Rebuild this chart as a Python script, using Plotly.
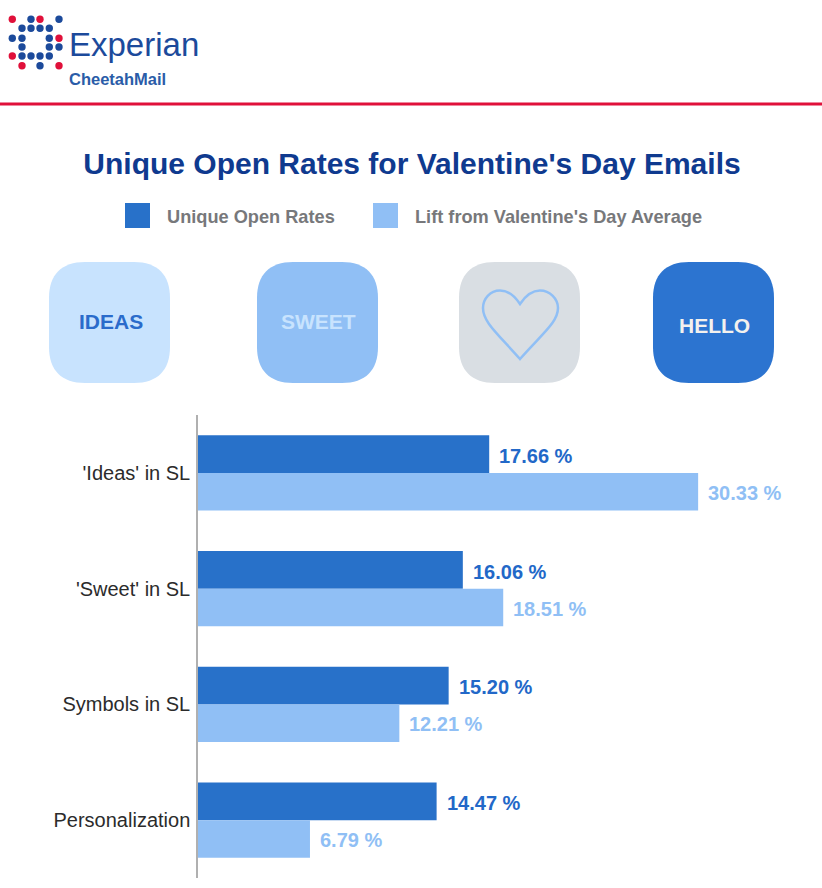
import plotly.graph_objects as go

W = 822
H = 888

categories = ["'Ideas' in SL", "'Sweet' in SL", "Symbols in SL", "Personalization"]
open_rates = [17.66, 16.06, 15.20, 14.47]
lift = [30.33, 18.51, 12.21, 6.79]
series_names = ["Unique Open Rates", "Lift from Valentine's Day Average"]
title_text = "Unique Open Rates for Valentine's Day Emails"

DARK = "#2871c9"
LIGHT = "#90bff5"
NAVY = "#0f3a8f"
RED = "#e0103a"
LOGO_BLUE = "#1c4a9b"


def px(x):
    return x / W


def py(y):
    return 1 - y / H


def path_str(*parts):
    # parts are command letters and (x, y) pairs in page pixels
    out = []
    for p in parts:
        if isinstance(p, str):
            out.append(p)
        else:
            out.append(f"{px(p[0]):.5f},{py(p[1]):.5f}")
    return " ".join(out)


def tile_path(x0, y0, size, r):
    x1, y1 = x0 + size, y0 + size
    k = r * 0.35
    return path_str(
        "M", (x0 + r, y0), "L", (x1 - r, y0),
        "C", (x1 - k, y0), (x1, y0 + k), (x1, y0 + r),
        "L", (x1, y1 - r),
        "C", (x1, y1 - k), (x1 - k, y1), (x1 - r, y1),
        "L", (x0 + r, y1),
        "C", (x0 + k, y1), (x0, y1 - k), (x0, y1 - r),
        "L", (x0, y0 + r),
        "C", (x0, y0 + k), (x0 + k, y0), (x0 + r, y0), "Z",
    )


fig = go.Figure()
fig.add_trace(go.Bar(y=categories, x=open_rates, name=series_names[0], orientation="h",
                     marker=dict(color=DARK, line=dict(width=0))))
fig.add_trace(go.Bar(y=categories, x=lift, name=series_names[1], orientation="h",
                     marker=dict(color=LIGHT, line=dict(width=0))))

shapes = []
annotations = []


def page_text(text, x, y, size, color, bold=False, anchor="center"):
    annotations.append(dict(
        text=f"<b>{text}</b>" if bold else text,
        x=px(x), y=py(y), xref="paper", yref="paper",
        xanchor=anchor, yanchor="middle", showarrow=False,
        font=dict(family="Liberation Sans", size=size, color=color),
    ))


# value labels beside the bars
for cat, a, b in zip(categories, open_rates, lift):
    annotations.append(dict(text=f"<b>{a:.2f} %</b>", x=a, y=cat, xanchor="left", yanchor="middle",
                            xshift=8, yshift=17, showarrow=False,
                            font=dict(family="Liberation Sans", size=20, color="#2268c8")))
    annotations.append(dict(text=f"<b>{b:.2f} %</b>", x=b, y=cat, xanchor="left", yanchor="middle",
                            xshift=8, yshift=-20, showarrow=False,
                            font=dict(family="Liberation Sans", size=20, color=LIGHT)))

# logo
logo_cols = [12.3, 22, 31, 40, 49.3, 59]
logo_rows = [19.3, 28.3, 38.3, 47, 56, 65.7]
logo_dots = [
    (0, 0, RED), (2, 0, LOGO_BLUE), (3, 0, RED), (5, 0, LOGO_BLUE),
    (1, 1, LOGO_BLUE), (2, 1, LOGO_BLUE), (3, 1, LOGO_BLUE), (4, 1, LOGO_BLUE),
    (0, 2, LOGO_BLUE), (1, 2, LOGO_BLUE), (4, 2, LOGO_BLUE), (5, 2, RED),
    (1, 3, LOGO_BLUE), (4, 3, LOGO_BLUE), (5, 3, LOGO_BLUE),
    (0, 4, RED), (1, 4, LOGO_BLUE), (2, 4, LOGO_BLUE), (3, 4, LOGO_BLUE), (4, 4, LOGO_BLUE),
    (1, 5, RED), (3, 5, LOGO_BLUE), (5, 5, RED),
]
for c, r, color in logo_dots:
    cx, cy = logo_cols[c], logo_rows[r]
    shapes.append(dict(type="circle", xref="paper", yref="paper",
                       x0=px(cx - 3.7), x1=px(cx + 3.7), y0=py(cy + 3.7), y1=py(cy - 3.7),
                       fillcolor=color, line=dict(width=0)))
page_text("Experian", 67, 44, 33, LOGO_BLUE, anchor="left")
page_text("CheetahMail", 67, 79, 16.5, "#2a5ca8", bold=True, anchor="left")

# red rule under the logo
shapes.append(dict(type="line", xref="paper", yref="paper", x0=0, x1=1, y0=py(104), y1=py(104),
                   line=dict(color=RED, width=3)))

# legend row
for x0, color, label, tx in [(125, DARK, series_names[0], 165), (373, LIGHT, series_names[1], 413)]:
    shapes.append(dict(type="rect", xref="paper", yref="paper",
                       x0=px(x0), x1=px(x0 + 25), y0=py(228), y1=py(203),
                       fillcolor=color, line=dict(width=0)))
    page_text(label, tx, 217, 18.2, "#77787b", bold=True, anchor="left")

# icon tiles
for x0, fill, word, wcolor, wy in [
    (49, "#c8e3fe", "IDEAS", "#2a6bcb", 321),
    (257, LIGHT, "SWEET", "#c8e3fe", 321),
    (459, "#d9dee3", None, None, None),
    (653, "#2c74d0", "HELLO", "#f3f1ee", 325),
]:
    shapes.append(dict(type="path", xref="paper", yref="paper", path=tile_path(x0, 262, 121, 36),
                       fillcolor=fill, line=dict(width=0)))
    if word:
        page_text(word, x0 + 61.5, wy, 21, wcolor, bold=True)

heart = path_str(
    "M", (520, 304),
    "C", (514, 295), (507, 290.5), (500, 290.5),
    "C", (490, 290.5), (483, 299), (483, 308),
    "C", (483, 322), (497, 333), (520, 359),
    "C", (543, 333), (558, 322), (558, 308),
    "C", (558, 299), (550, 290.5), (540, 290.5),
    "C", (533, 290.5), (526, 295), (520, 304), "Z",
)
shapes.append(dict(type="path", xref="paper", yref="paper", path=heart,
                   line=dict(color=LIGHT, width=2.5)))

fig.update_layout(
    width=W,
    height=H,
    margin=dict(l=0, r=0, t=0, b=0),
    paper_bgcolor="white",
    plot_bgcolor="white",
    showlegend=False,
    barmode="group",
    bargap=0.35,
    bargroupgap=0,
    title=dict(text=f"<b>{title_text}</b>", x=412 / W, xanchor="center", xref="paper",
               y=py(163), yanchor="middle", yref="container",
               font=dict(family="Liberation Sans", size=30, color=NAVY)),
    shapes=shapes,
    annotations=annotations,
)
# 16.49 px per percentage point, zero at x=198
fig.update_xaxes(domain=[198 / W, 1], range=[0, 624 / 16.49], visible=False)
fig.update_yaxes(domain=[10 / H, 473 / H], autorange="reversed", showgrid=False,
                 showline=True, linecolor="#b0b0b0", linewidth=1.5,
                 ticks="outside", ticklen=2, tickcolor="rgba(0,0,0,0)",
                 tickfont=dict(family="Liberation Sans", size=20, color="#2b2b2b"))

fig.write_html("out.html", config=dict(displayModeBar=False),
               post_script="document.body.style.margin='0';")
